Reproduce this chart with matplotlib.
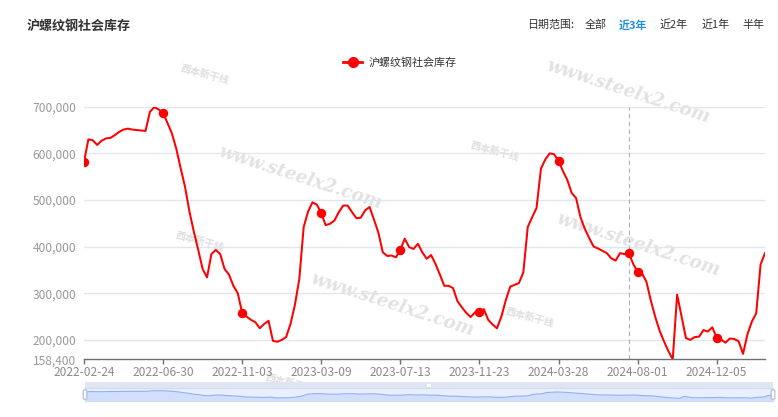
import matplotlib
matplotlib.use('Agg')
import matplotlib.pyplot as plt
from matplotlib.patches import Rectangle, FancyBboxPatch
from matplotlib.lines import Line2D
import numpy as np

plt.rcParams['font.family'] = ['Noto Sans CJK SC', 'DejaVu Sans']

# ---------------- data (weekly, 2022-02-24 onwards, tonnes) ----------------
inventory = [
    582000, 630000, 628000, 618000, 627000, 632000, 633000, 639000, 646000, 651000,
    653000, 651000, 650000, 649000, 648000, 689000, 699000, 694000, 687000, 665000,
    643000, 610000, 568000, 528000, 475000, 432000, 393000, 352000, 334000, 384000,
    393000, 384000, 352000, 340000, 316000, 300000, 258000, 250000, 243000, 238000,
    225000, 234000, 241000, 198000, 196000, 200000, 206000, 234000, 275000, 330000,
    442000, 475000, 495000, 490000, 472000, 446000, 449000, 456000, 474000, 488000,
    488000, 474000, 461000, 462000, 478000, 485000, 458000, 430000, 388000, 380000,
    381000, 377000, 393000, 417000, 399000, 395000, 406000, 388000, 374000, 382000,
    363000, 340000, 316000, 316000, 311000, 283000, 270000, 258000, 249000, 259000,
    259000, 266000, 243000, 233000, 225000, 250000, 285000, 314000, 318000, 322000,
    345000, 442000, 463000, 483000, 567000, 587000, 600000, 598000, 584000, 562000,
    543000, 515000, 504000, 463000, 438000, 418000, 400000, 396000, 391000, 386000,
    375000, 370000, 386000, 384000, 386000, 363000, 345000, 343000, 325000, 285000,
    250000, 220000, 197000, 176000, 158400, 297000, 250000, 204000, 200000, 206000,
    207000, 221000, 218000, 227000, 205000, 201000, 194000, 203000, 202000, 197000,
    170000, 212000, 239000, 257000, 362000, 386000,
]
tick_labels = ["2022-02-24", "2022-06-30", "2022-11-03", "2023-03-09", "2023-07-13",
               "2023-11-23", "2024-03-28", "2024-08-01", "2024-12-05"]
label_step = 18
hover_index = 124
y_min = 158400
y_max = 700000
y_ticks = [200000, 300000, 400000, 500000, 600000, 700000]
title = "沪螺纹钢社会库存"
series_name = "沪螺纹钢社会库存"
range_prefix = "日期范围:"
range_options = ["全部", "近3年", "近2年", "近1年", "半年"]
range_active = "近3年"

# ---------------- layout helpers ----------------
W, H = 778, 417
fig = plt.figure(figsize=(W / 100, H / 100), dpi=100)
fig.patch.set_facecolor('white')


def fx(px):
    return px / W


def fy(py):
    return 1 - py / H


def pt(px):
    return px * 0.72


RED = '#ff0000'
n = len(inventory)
x = np.arange(n)
vals = np.array(inventory, dtype=float)

ax = fig.add_axes([fx(84), fy(359.3), fx(765) - fx(84), fy(106.7) - fy(359.3)])
ax.patch.set_alpha(0)

# grid
for t in y_ticks:
    ax.axhline(t, color='#E0E6F1', lw=1, zorder=1)

# watermarks
wm_kw = dict(transform=fig.transFigure, color='#e2e2e2', fontsize=pt(18), style='italic',
             family='DejaVu Serif', ha='center', va='center', rotation=-18, zorder=0.5,
             clip_on=False, weight='bold')
for cx, cy in [(300, 178), (628, 92), (392, 305), (638, 245)]:
    ax.text(fx(cx), fy(cy), 'www.steelx2.com', **wm_kw)
logo_kw = dict(transform=fig.transFigure, color='#dedede', fontsize=pt(10),
               ha='center', va='center', rotation=-15, zorder=0.5, clip_on=False,
               weight='bold')
for cx, cy in [(200, 242), (495, 152), (530, 318), (205, 75), (290, 384)]:
    ax.text(fx(cx), fy(cy), '西本新干线', **logo_kw)

# hover pointer line
ax.plot([hover_index, hover_index], [y_min, y_max], color='#b0b0b0', lw=0.8,
        ls=(0, (4, 3)), zorder=2)

# series
ax.plot(x, vals, color=RED, lw=1.45, zorder=3, solid_joinstyle='round')
mk = list(range(0, n, label_step)) + [hover_index]
ax.plot(x[mk], vals[mk], 'o', ms=5.8, color=RED, zorder=4, mec=RED)

ax.set_xlim(0, n - 1)
ax.set_ylim(y_min, y_max)

for s in ['top', 'right', 'left']:
    ax.spines[s].set_visible(False)
ax.spines['bottom'].set_color('#6E7079')
ax.spines['bottom'].set_linewidth(1)
ax.spines['bottom'].set_zorder(5)

ax.set_yticks([y_min] + y_ticks)
ax.set_yticklabels([f"{v:,}" for v in [y_min] + y_ticks])
ax.tick_params(axis='y', length=0, pad=pt(8), labelsize=pt(12), labelcolor='#999999')

tick_pos = list(range(0, n, label_step))[:len(tick_labels)]
ax.set_xticks(tick_pos)
ax.set_xticklabels(tick_labels)
ax.tick_params(axis='x', length=pt(5), width=1, color='#6E7079', pad=pt(1.5),
               labelsize=pt(12), labelcolor='#8a8a8a')

# ---------------- title & range selector ----------------
fig.text(fx(27), fy(26), title, fontsize=pt(13), weight='bold', color='#333333',
         va='center', ha='left')
fig.text(fx(527), fy(25), range_prefix, fontsize=pt(11), color='#333333',
         va='center', ha='left')
for lbl, px in zip(range_options, [585, 619, 660, 702, 742]):
    active = lbl == range_active
    fig.text(fx(px), fy(25), lbl, fontsize=pt(11),
             color='#1e8ee0' if active else '#333333',
             weight='bold' if active else 'normal', va='center', ha='left')

# ---------------- legend ----------------
fig.add_artist(Line2D([fx(343), fx(362)], [fy(62), fy(62)], color=RED, lw=2.0,
                      transform=fig.transFigure))
fig.add_artist(Line2D([fx(352.5)], [fy(62)], marker='o', ms=7, color=RED,
                      transform=fig.transFigure))
fig.text(fx(369), fy(62), series_name, fontsize=pt(11), color='#333333',
         va='center', ha='left')

# ---------------- data zoom slider ----------------
sl_left, sl_right = 85, 773
band_top, band_bot = 381.7, 388.3
area_top, area_bot = 388.3, 400.7
fig.add_artist(Rectangle((fx(sl_left), fy(band_bot)), fx(sl_right) - fx(sl_left),
                         fy(band_top) - fy(band_bot), transform=fig.transFigure,
                         facecolor='#dfe5f3', edgecolor='none'))
sax = fig.add_axes([fx(sl_left), fy(area_bot), fx(sl_right) - fx(sl_left),
                    fy(area_top) - fy(area_bot)])
sax.set_facecolor('#e8effe')
ext = vals.max() - vals.min()
lo, hi = vals.min() - 0.3 * ext, vals.max() + 0.3 * ext
sax.fill_between(x, lo, vals, color='#8fb0f7', alpha=0.25, lw=0)
sax.plot(x, vals, color='#8fb0f7', lw=0.8)
sax.set_xlim(0, n - 1)
sax.set_ylim(lo, hi)
sax.set_xticks([])
sax.set_yticks([])
for s in sax.spines.values():
    s.set_color('#d2dbee')
    s.set_linewidth(0.8)
for hx in [sl_left, sl_right]:
    fig.add_artist(FancyBboxPatch((fx(hx - 1.8), fy(area_bot - 1.5)), fx(3.6),
                                  fy(area_top + 1.5) - fy(area_bot - 1.5),
                                  boxstyle='round,pad=0,rounding_size=0.002',
                                  transform=fig.transFigure, facecolor='white',
                                  edgecolor='#ACB8D1', lw=0.8))
fig.add_artist(Rectangle((fx(427), fy(386.5)), fx(4), fy(383.5) - fy(386.5),
                         transform=fig.transFigure, facecolor='white', edgecolor='none'))

fig.savefig('out.png', dpi=100)
